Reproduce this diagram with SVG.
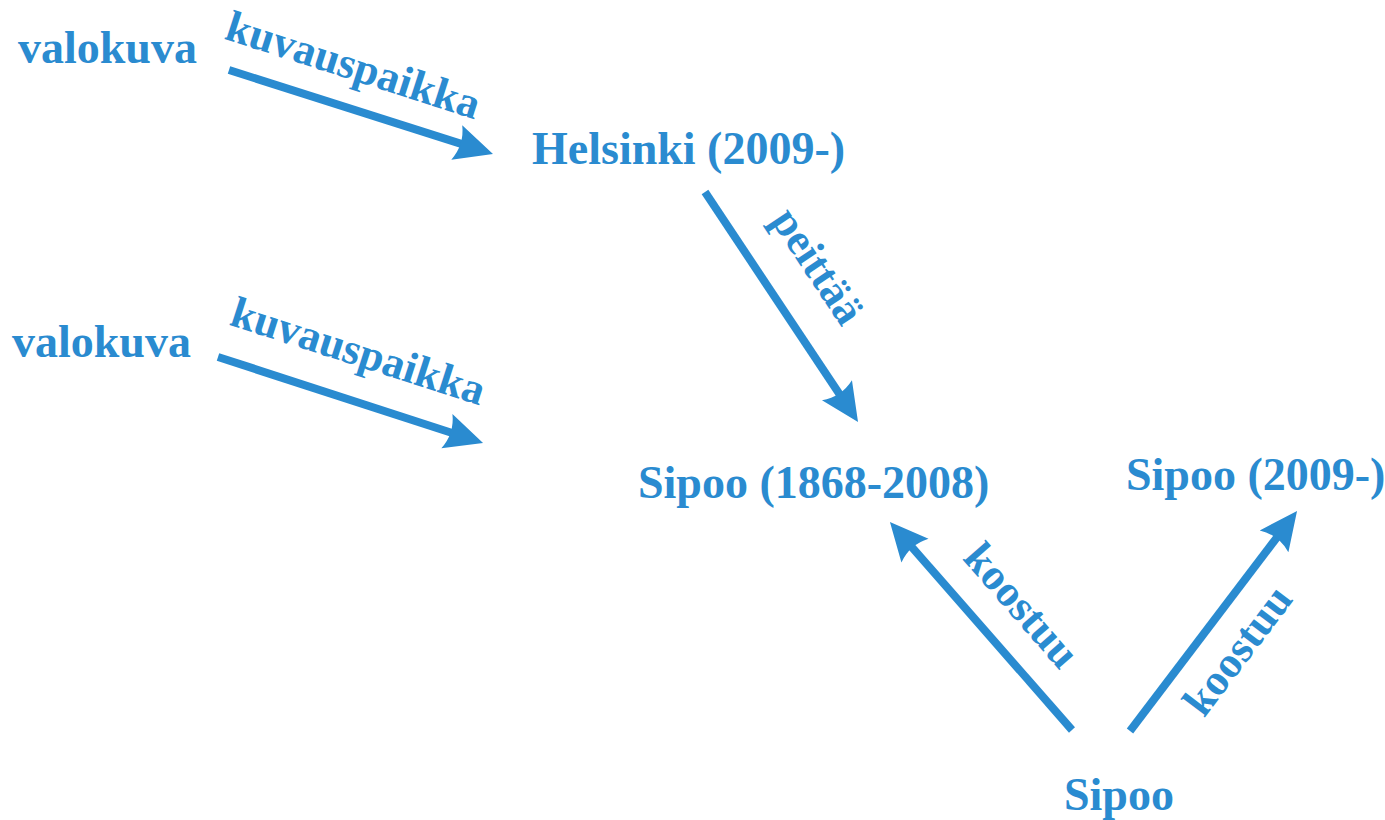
<svg xmlns="http://www.w3.org/2000/svg" width="1385" height="820" viewBox="0 0 1385 820">
<defs>
<style>
.node{font-family:"Liberation Serif","Times New Roman",serif;font-weight:bold;font-size:46px;fill:#2a8bd0}
.lbl{font-family:"Liberation Serif","Times New Roman",serif;font-weight:bold;font-size:44px;fill:#2a8bd0;text-anchor:middle}
.edge{stroke:#2a8bd0;stroke-width:8;fill:none;marker-end:url(#ah)}
</style>
<marker id="ah" markerUnits="userSpaceOnUse" markerWidth="44" markerHeight="40" viewBox="-10 -20 44 40" refX="0" refY="0" orient="auto">
<path d="M30,0 L-8,-18 Q0,0 -8,18 Z" fill="#2a8bd0"/>
</marker>
</defs>
<rect width="1385" height="820" fill="#ffffff"/>
<g id="edges">
<line class="edge" x1="229" y1="70" x2="464.4" y2="144.9"/>
<line class="edge" x1="218" y1="357" x2="454.5" y2="433.7"/>
<line class="edge" x1="705" y1="192" x2="841.4" y2="397"/>
<line class="edge" x1="1072" y1="730" x2="909.7" y2="544.6"/>
<line class="edge" x1="1130" y1="731" x2="1278.9" y2="534.9"/>
<text class="lbl" x="349" y="79" transform="rotate(17.8 349 79)">kuvauspaikka</text>
<text class="lbl" x="354" y="365" transform="rotate(17.8 354 365)">kuvauspaikka</text>
<text class="lbl" x="806" y="274" transform="rotate(56.4 806 274)">peittää</text>
<text class="lbl" x="1011" y="615" transform="rotate(48.8 1011 615)">koostuu</text>
<text class="lbl" x="1249" y="659" transform="rotate(-52.8 1249 659)">koostuu</text>
</g>
<g id="n-valokuva1"><text class="node" x="18" y="63">valokuva</text></g>
<g id="n-valokuva2"><text class="node" x="12" y="357">valokuva</text></g>
<g id="n-helsinki"><text class="node" x="532" y="164">Helsinki (2009-)</text></g>
<g id="n-sipoo1868"><text class="node" x="638" y="498">Sipoo (1868-2008)</text></g>
<g id="n-sipoo2009"><text class="node" x="1126" y="490">Sipoo (2009-)</text></g>
<g id="n-sipoo"><text class="node" x="1064" y="810">Sipoo</text></g>
</svg>
